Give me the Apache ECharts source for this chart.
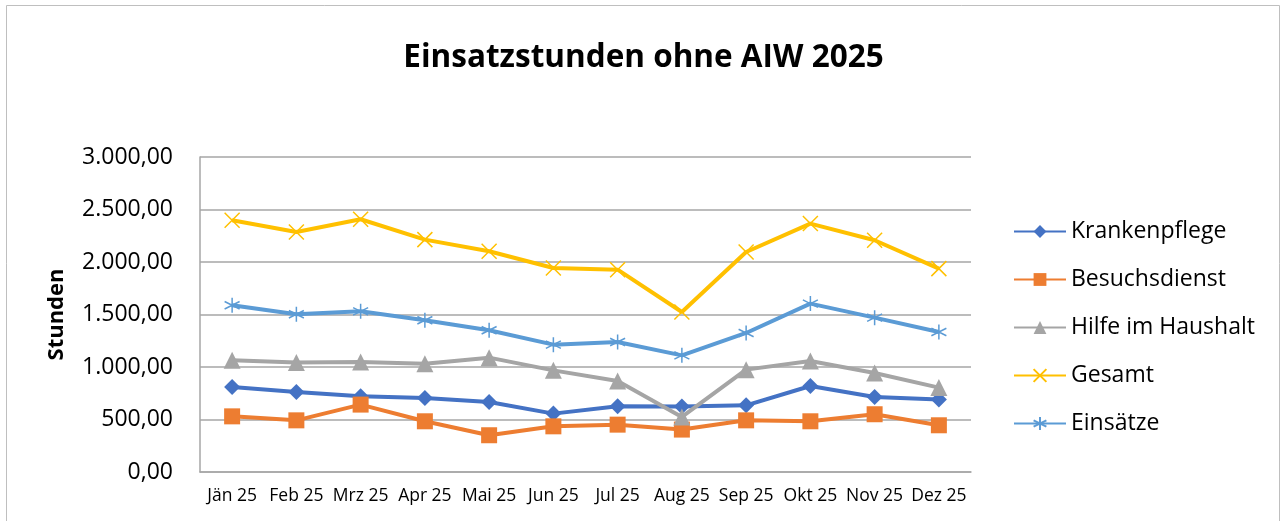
<!DOCTYPE html>
<html>
<head>
<meta charset="utf-8">
<script src="https://cdn.jsdelivr.net/npm/echarts@6/dist/echarts.min.js"></script>
<style>
  html, body { margin: 0; padding: 0; background: #fff; }
  #chart { width: 1287px; height: 521px; }
</style>
</head>
<body>
<div id="chart"></div>
<script>
// Data
const months = ['Jän 25', 'Feb 25', 'Mrz 25', 'Apr 25', 'Mai 25', 'Jun 25', 'Jul 25', 'Aug 25', 'Sep 25', 'Okt 25', 'Nov 25', 'Dez 25'];
const krankenpflege = [810, 762, 721, 705, 667, 556, 626, 624, 635, 819, 714, 690];
const besuchsdienst = [530, 492, 642, 483, 350, 435, 451, 404, 492, 483, 550, 445];
const hilfeHaushalt = [1064, 1042, 1048, 1032, 1089, 968, 867, 524, 975, 1057, 943, 804];
const gesamt = [2397, 2286, 2407, 2213, 2102, 1943, 1927, 1524, 2095, 2366, 2207, 1937];
const einsaetze = [1588, 1502, 1530, 1445, 1350, 1213, 1238, 1111, 1324, 1604, 1470, 1333];

const font = '"Open Sans", "Noto Sans", sans-serif';

const fmt = v => {
  const int = Math.round(v).toString().replace(/\B(?=(\d{3})+(?!\d))/g, '.');
  return int + ',00';
};

const xMark = 'path://M0,0 L10,10 M10,0 L0,10';
const starMark = 'path://M5,0 L5,10 M0.7,2.5 L9.3,7.5 M0.7,7.5 L9.3,2.5';

const line = (name, data, color, symbol, size) => ({
  name: name,
  type: 'line',
  data: data,
  symbol: symbol,
  symbolSize: size,
  showSymbol: true,
  lineStyle: { color: color, width: 4 },
  itemStyle: { color: color, borderColor: color, borderWidth: (symbol.startsWith('path') ? 1.5 : 0) },
  emphasis: { disabled: true }
});

const myChart = echarts.init(document.getElementById('chart'));
myChart.setOption({
  animation: false,
  textStyle: { fontFamily: font, color: '#000' },
  title: {
    text: 'Einsatzstunden ohne AIW 2025',
    left: 'center',
    top: 37,
    textStyle: { fontFamily: font, fontSize: 31.5, fontWeight: 'bold', color: '#000' }
  },
  graphic: [{
    type: 'rect',
    shape: { x: 6.5, y: 5.5, width: 1273, height: 530 },
    style: { fill: 'none', stroke: '#BFBFBF', lineWidth: 1 },
    silent: true
  }],
  legend: {
    orient: 'vertical',
    left: 1008,
    top: 215,
    itemGap: 25,
    itemWidth: 52,
    itemHeight: 16,
    data: ['Krankenpflege', 'Besuchsdienst', 'Hilfe im Haushalt', 'Gesamt', 'Einsätze'],
    textStyle: { fontFamily: font, fontSize: 23, color: '#000' }
  },
  grid: { left: 200, right: 316, top: 157, bottom: 49, containLabel: false },
  xAxis: {
    type: 'category',
    data: months,
    boundaryGap: true,
    axisLine: { lineStyle: { color: '#A6A6A6', width: 1.5 } },
    axisTick: { show: false },
    axisLabel: { fontFamily: font, fontSize: 17.5, color: '#000', margin: 15, interval: 0 }
  },
  yAxis: {
    type: 'value',
    min: 0,
    max: 3000,
    interval: 500,
    name: 'Stunden',
    nameLocation: 'middle',
    nameGap: 132,
    nameTextStyle: { fontFamily: font, fontSize: 22, fontWeight: 'bold', color: '#000' },
    axisLine: { show: true, lineStyle: { color: '#A6A6A6', width: 1.5 } },
    axisTick: { show: false },
    splitLine: { lineStyle: { color: '#A6A6A6', width: 1.5 } },
    axisLabel: { fontFamily: font, fontSize: 23, color: '#000', margin: 27, formatter: fmt }
  },
  series: [
    line('Krankenpflege', krankenpflege, '#4472C4', 'diamond', 16),
    line('Besuchsdienst', besuchsdienst, '#ED7D31', 'rect', 16),
    line('Hilfe im Haushalt', hilfeHaushalt, '#A5A5A5', 'triangle', 17),
    line('Gesamt', gesamt, '#FFC000', xMark, 15),
    line('Einsätze', einsaetze, '#5B9BD5', starMark, 15)
  ]
});
</script>
</body>
</html>
